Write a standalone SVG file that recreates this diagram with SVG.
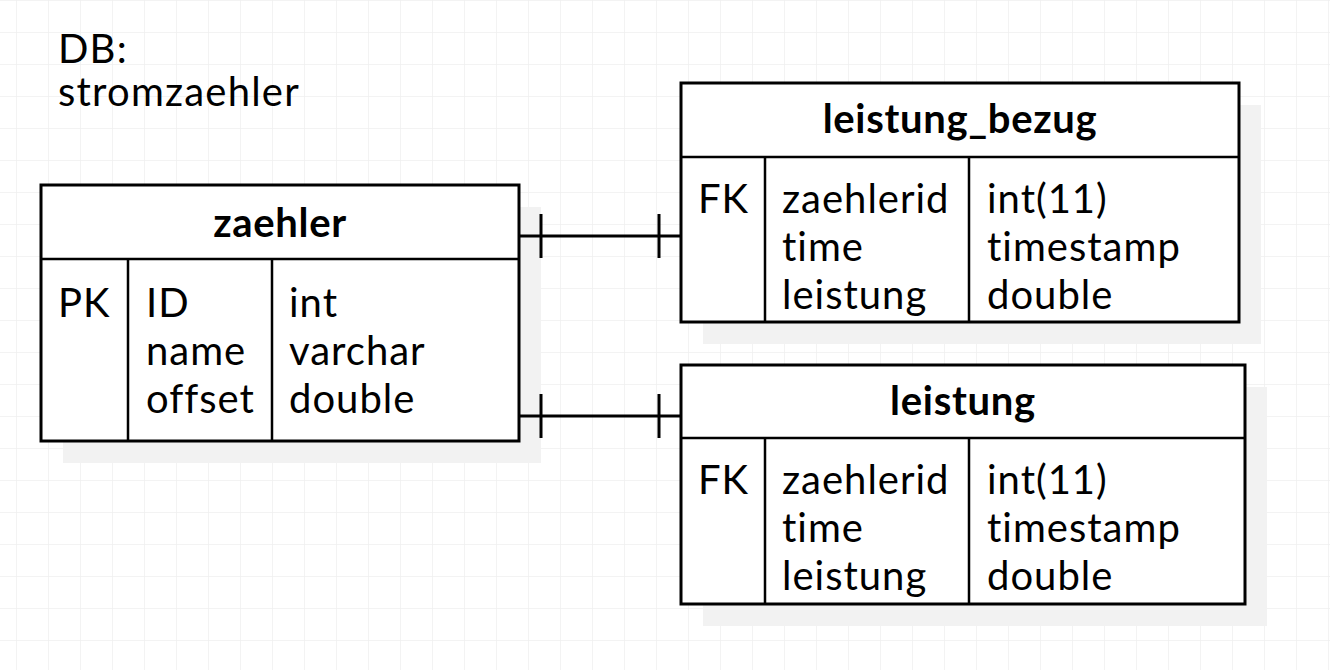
<svg xmlns="http://www.w3.org/2000/svg" width="1330" height="670" viewBox="0 0 1330 670">
<defs>
<pattern id="grid" width="32" height="32" patternUnits="userSpaceOnUse" x="16" y="0">
<path d="M0 0H32M0 0V32" fill="none" stroke="#f0f0f0" stroke-width="1.5"/>
</pattern>
<style>
text{font-family:Lato,"Liberation Sans",sans-serif;fill:#000}
.t{font-size:40px;font-weight:bold;text-anchor:middle;letter-spacing:0.7px}
.r{font-size:40px;letter-spacing:1px}
.lbl{font-size:40px;letter-spacing:1.2px}
.box{fill:#fff;stroke:#000;stroke-width:3}
.div{stroke:#000;stroke-width:2.5;fill:none}
.sh{fill:#f2f2f2}
.con{stroke:#000;stroke-width:3;fill:none}
</style>
</defs>
<rect width="1330" height="670" fill="#fff"/>
<rect width="1330" height="670" fill="url(#grid)"/>
<g id="label">
<text class="lbl" x="58" y="63">DB:</text>
<text class="lbl" x="58" y="106">stromzaehler</text>
</g>
<g id="zaehler">
<rect class="sh" x="63" y="207" width="478" height="256"/>
<rect class="box" x="41" y="185" width="478" height="256"/>
<path class="div" d="M41 259H519M128 259V441M272 259V441"/>
<text class="t" x="280" y="237">zaehler</text>
<text class="r" x="58" y="317">PK</text>
<text class="r" x="146" y="317">ID</text>
<text class="r" x="146" y="365">name</text>
<text class="r" x="146" y="413">offset</text>
<text class="r" x="289" y="317">int</text>
<text class="r" x="289" y="365">varchar</text>
<text class="r" x="289" y="413">double</text>
</g>
<g id="leistung_bezug">
<rect class="sh" x="703" y="105" width="558" height="239"/>
<rect class="box" x="681" y="83" width="558" height="239"/>
<path class="div" d="M681 157H1239M765 157V322M969 157V322"/>
<text class="t" x="960" y="133">leistung_bezug</text>
<text class="r" x="698" y="213">FK</text>
<text class="r" x="782" y="213">zaehlerid</text>
<text class="r" x="782" y="261">time</text>
<text class="r" x="782" y="309">leistung</text>
<text class="r" x="987" y="213">int(11)</text>
<text class="r" x="987" y="261">timestamp</text>
<text class="r" x="987" y="309">double</text>
</g>
<g id="leistung">
<rect class="sh" x="703" y="387" width="564" height="239"/>
<rect class="box" x="681" y="365" width="564" height="239"/>
<path class="div" d="M681 438H1245M765 438V604M969 438V604"/>
<text class="t" x="963" y="415">leistung</text>
<text class="r" x="698" y="494">FK</text>
<text class="r" x="782" y="494">zaehlerid</text>
<text class="r" x="782" y="542">time</text>
<text class="r" x="782" y="590">leistung</text>
<text class="r" x="987" y="494">int(11)</text>
<text class="r" x="987" y="542">timestamp</text>
<text class="r" x="987" y="590">double</text>
</g>
<g id="connectors">
<path class="con" d="M519 236H681M541 214V258M659 214V258"/>
<path class="con" d="M519 416H681M541 394V438M659 394V438"/>
</g>
</svg>
